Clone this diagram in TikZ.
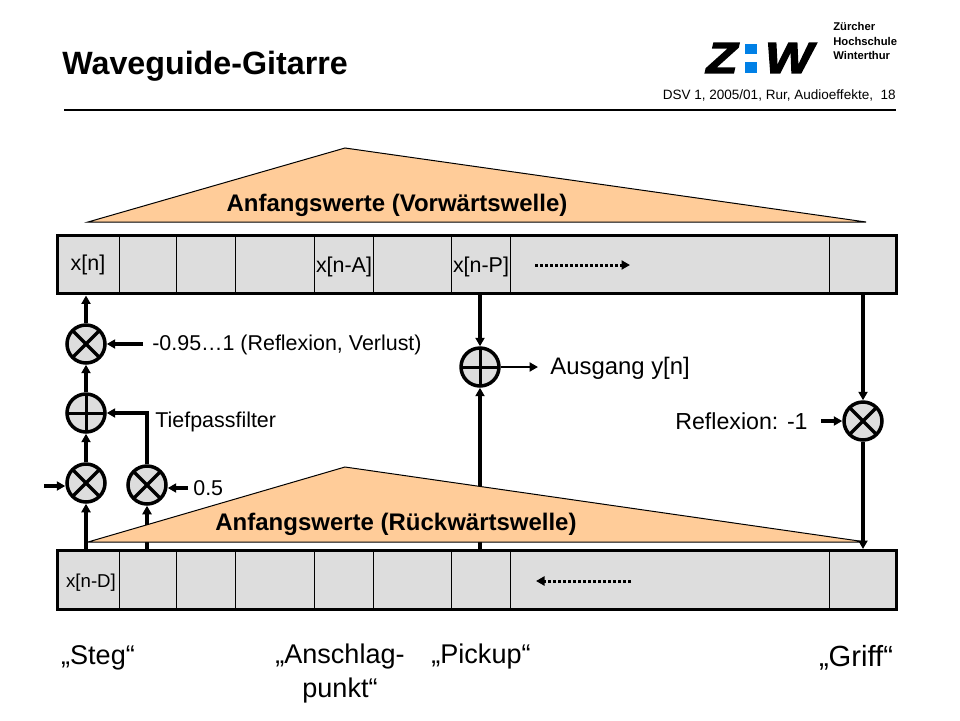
\documentclass[tikz,border=0pt]{standalone}
\usepackage{fontspec}
\setmainfont{Liberation Sans}
\newfontfamily\logofont[FakeBold=3]{Liberation Sans Bold Italic}
\usetikzlibrary{arrows.meta}
\definecolor{tapegray}{HTML}{DDDDDD}
\definecolor{wedgeorange}{HTML}{FFCC99}
\definecolor{logoblue}{HTML}{0080E6}
\tikzset{
  tape/.style={draw, line width=.06cm, fill=tapegray, inner sep=0pt, minimum width=16.8cm, minimum height=1.18cm},
  unit/.style={circle, draw, line width=.07cm, fill=tapegray, inner sep=0pt, minimum size=.76cm},
  mult/.style={unit, path picture={
      \draw[line width=.07cm] (path picture bounding box.north west) -- (path picture bounding box.south east);
      \draw[line width=.07cm] (path picture bounding box.north east) -- (path picture bounding box.south west);}},
  adder/.style={unit, path picture={
      \draw[line width=.06cm] (path picture bounding box.north) -- (path picture bounding box.south);
      \draw[line width=.06cm] (path picture bounding box.east) -- (path picture bounding box.west);}},
  sig/.style={line width=.07cm, -{Triangle[length=.17cm,width=.18cm]}},
  wedge/.style={draw, line width=.02cm, fill=wedgeorange},
  cell/.style={font=\fontsize{12.2}{14}\selectfont, inner sep=0pt},
  big/.style={font=\fontsize{13.6}{15}\selectfont, inner sep=0pt},
  bigbold/.style={font=\fontsize{13.65}{15}\bfseries\selectfont, inner sep=0pt},
  place/.style={font=\fontsize{15.4}{18.9}\selectfont, inner sep=0pt, align=center},
  school/.style={font=\fontsize{6.4}{8}\bfseries\selectfont, inner sep=0pt, anchor=west}
}

\begin{document}
\begin{tikzpicture}[x=.02cm, y=-.02cm]
  \useasboundingbox (0,0) rectangle (960,720);

  % header
  \node[font=\fontsize{18.35}{20}\bfseries\selectfont, inner sep=0pt, anchor=west] (title) at (62,66) {Waveguide-Gitarre};
  \node[font=\fontsize{7.7}{9}\selectfont, inner sep=0pt, anchor=east] (info) at (896,95) {DSV 1, 2005/01, Rur, Audioeffekte,\ \ 18};
  \draw[line width=.05cm] (64,110) -- (896,110);
  \node[school] (zh1) at (833,26) {Zürcher};
  \node[school] (zh2) at (833,41) {Hochschule};
  \node[school] (zh3) at (833,55) {Winterthur};
  \node[inner sep=0pt] (logoz) at (722,58) {\resizebox{.62cm}{.6cm}{\logofont Z}};
  \node[inner sep=0pt] (logow) at (789,58) {\resizebox{.96cm}{.6cm}{\logofont W}};
  \fill[logoblue] (745,44) rectangle (757,54);
  \fill[logoblue] (745,62) rectangle (757,73);

  % tapes
  \node[tape] (toptape) at (477,264.5) {};
  \node[tape] (bottape) at (477,580) {};
  \foreach \x in {119,176,235,314,373,451,510,829} {
    \draw[line width=.02cm] (\x,236) -- (\x,293);
    \draw[line width=.02cm] (\x,551) -- (\x,609);
  }
  \node[cell] (xn) at (88,265) {x[n]};
  \node[cell] (xna) at (344,267) {x[n-A]};
  \node[cell] (xnp) at (481,267) {x[n-P]};
  \node[cell, font=\fontsize{10.6}{13}\selectfont] (xnd) at (91,583) {x[n-D]};

  % summing and gain units
  \node[mult] (gainloss) at (86,344) {};
  \node[adder] (sumsteg) at (86,413) {};
  \node[mult] (gainin) at (86,483) {};
  \node[mult] (gainlow) at (147,485) {};
  \node[adder] (sumout) at (480,367) {};
  \node[mult] (gainref) at (863,421) {};

  % these run behind the lower wedge
  \draw[sig] (bottape.north -| gainin) -- (gainin);
  \draw[sig] (bottape.north -| gainlow) -- (gainlow);
  \draw[sig] (bottape.north -| sumout) -- (sumout);

  % wedges
  \coordinate (topl) at (88,222);
  \coordinate (topm) at (345,148);
  \coordinate (topr) at (866,222);
  \coordinate (botl) at (88,542);
  \coordinate (botm) at (345,467);
  \coordinate (botr) at (866,542);
  \draw[wedge] (topl) -- (topm) -- (topr) -- cycle;
  \draw[wedge] (botl) -- (botm) -- (botr) -- cycle;
  \node[bigbold] (vorw) at (397,205) {Anfangswerte (Vorwärtswelle)};
  \node[bigbold] (rueck) at (396,524) {Anfangswerte (Rückwärtswelle)};

  % signal path
  \draw[sig] (gainin) -- (sumsteg);
  \draw[sig] (sumsteg) -- (gainloss);
  \draw[sig] (gainloss) -- (gainloss |- toptape.south);
  \draw[sig] (gainlow) |- (sumsteg);
  \draw[sig] (toptape.south -| sumout) -- (sumout);
  \draw[sig] (toptape.south -| gainref) -- (gainref);
  \draw[sig] (gainref) -- (bottape.north -| gainref);

  % inputs and outputs
  \coordinate (inloss) at (143,344);
  \coordinate (inmain) at (44,486);
  \coordinate (inhalf) at (188,488);
  \coordinate (outy) at (538,367);
  \coordinate (inref) at (821,421);
  \draw[sig] (inloss) -- (gainloss);
  \draw[sig] (inmain) -- (gainin.west |- inmain);
  \draw[sig] (inhalf) -- (gainlow.east |- inhalf);
  \draw[sig, line width=.05cm] (sumout) -- (outy);
  \draw[sig] (inref) -- (gainref);

  % shift direction
  \coordinate (shtl) at (535,265);
  \coordinate (shtr) at (630,265);
  \coordinate (shbl) at (536,581);
  \coordinate (shbr) at (631,581);
  \draw[sig, line width=.06cm, dash pattern=on .06cm off .04cm] (shtl) -- (shtr);
  \draw[sig, line width=.06cm, dash pattern=on .06cm off .04cm] (shbr) -- (shbl);

  % labels
  \node[cell, anchor=west] (lloss) at (152,345) {-0.95…1 (Reflexion, Verlust)};
  \node[cell, anchor=west] (ltp) at (155,422) {Tiefpassfilter};
  \node[cell, anchor=west] (lhalf) at (193,488) {0.5};
  \node[big, anchor=west] (lout) at (550,368) {Ausgang y[n]};
  \node[big, font=\fontsize{13.2}{15}\selectfont, anchor=east] (lref) at (808,421) {Reflexion: -1};
  \node[place] (steg) at (98,658) {„Steg“};
  \node[place, anchor=north] (anschlag) at (340,644) {„Anschlag-\\punkt“};
  \node[place] (pickup) at (481,656) {„Pickup“};
  \node[place, font=\fontsize{16.6}{18.9}\selectfont] (griff) at (856,658) {„Griff“};
\end{tikzpicture}
\end{document}
